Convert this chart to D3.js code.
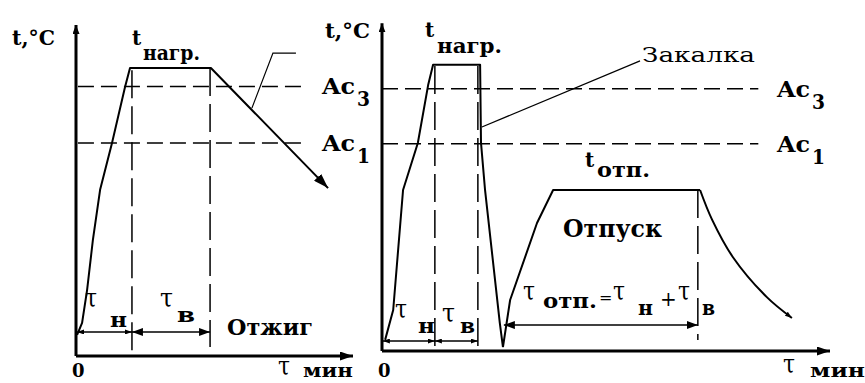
<!DOCTYPE html>
<html>
<head>
<meta charset="utf-8">
<title>Отжиг, закалка и отпуск</title>
<style>
  body { margin: 0; background: #fff; }
  svg { display: block; }
  .axis { stroke: #000; stroke-width: 3; fill: none; }
  .curve { stroke: #000; stroke-width: 2; fill: none; stroke-linejoin: round; }
  .crit { stroke: #000; stroke-width: 1.5; stroke-dasharray: 16 7; }
  .guide { stroke: #000; stroke-width: 1.5; stroke-dasharray: 28 8; }
  .dim { stroke: #000; stroke-width: 1.5; }
  .leader { stroke: #000; stroke-width: 1.2; fill: none; }
</style>
</head>
<body>
<div class="chart"></div>
<script src="https://d3js.org/d3.v7.min.js"></script>
<script>
// critical points, °C
const critNames = ["Ac1", "Ac3"];
const critTemps = [727, 920];

// annealing: heating, holding, slow cooling (time in arbitrary units)
const annealTime = [0.4, 2.2, 4.0, 6.1, 8.7, 13, 17.7, 19.5, 48.7, 91];
const annealTemp = [72, 113, 225, 396, 567, 727, 918, 983, 983, 573];
const annealMarks = [20.2, 48.4];          // end of heating, end of holding
const annealLeaderTime = [79.4, 71.1, 63.5];
const annealLeaderTemp = [1034, 1034, 846];

// quenching
const quenchTime = [0.7, 2.5, 4.7, 8.0, 10.3, 11.4, 21.9, 22.1, 23, 26.3, 27];
const quenchTemp = [39, 144, 565, 730, 933, 1004, 1004, 730, 565, 98, 14];
const quenchMarks = [11.8, 21.4];
const quenchLeaderTime = [57.6, 22.3];
const quenchLeaderTemp = [1018, 786];

// tempering: heating + holding, then cooling
const temperTime = [27, 28.6, 34.6, 38.2, 71];
const temperTemp = [14, 179, 449, 565, 565];
const coolTime = [71, 73.7, 78.3, 85.9, 91.5];
const coolTemp = [565, 460, 330, 189, 116];
const temperMark = 70.5;

const FONT = "'DejaVu Serif', 'Liberation Serif', serif";

const svg = d3.select(".chart").append("svg")
  .attr("width", 865)
  .attr("height", 383);

// arrow heads
const defs = svg.append("defs");
function marker(id, len, wid) {
  defs.append("marker")
    .attr("id", id)
    .attr("markerUnits", "userSpaceOnUse")
    .attr("markerWidth", len).attr("markerHeight", wid)
    .attr("refX", len).attr("refY", wid / 2)
    .attr("orient", "auto-start-reverse")
    .append("path")
    .attr("d", `M0,0L${len},${wid / 2}L0,${wid}Z`)
    .attr("fill", "#000");
}
marker("axisArrow", 13, 9);
marker("upArrow", 9, 7);
marker("bigArrow", 15, 10);
marker("dimArrow", 11, 8);
marker("smallArrow", 7, 5);

const xL = d3.scaleLinear().domain([0, 100]).range([76, 353]);
const yL = d3.scaleLinear().domain([0, 1000]).range([356, 63]);
const xR = d3.scaleLinear().domain([0, 100]).range([382, 830]);
const yR = d3.scaleLinear().domain([0, 1000]).range([351, 66]);

function axes(x, y, tTop) {
  svg.append("line").attr("class", "axis")
    .attr("x1", x(0)).attr("y1", y(0))
    .attr("x2", x(0)).attr("y2", y(tTop))
    .attr("marker-end", "url(#upArrow)");
  svg.append("line").attr("class", "axis")
    .attr("x1", x(0)).attr("y1", y(0))
    .attr("x2", x(100)).attr("y2", y(0))
    .attr("marker-end", "url(#axisArrow)");
}

function curve(x, y, times, temps, cls, arrow, smooth) {
  const line = d3.line().x(d => x(d[0])).y(d => y(d[1]));
  if (smooth) line.curve(d3.curveCatmullRom);
  const p = svg.append("path").attr("class", cls)
    .attr("d", line(d3.zip(times, temps)));
  if (arrow) p.attr("marker-end", `url(#${arrow})`);
}

function crit(x, y, t0, t1, lx, dy) {
  critTemps.forEach((T, i) => {
    svg.append("line").attr("class", "crit")
      .attr("x1", x(t0)).attr("x2", x(t1))
      .attr("y1", y(T)).attr("y2", y(T));
    txt(lx, y(T) + dy, "Ac", 22, true, 33);
    txt(lx + 35, y(T) + dy + 12, critNames[i].slice(2), 21, true, 13);
  });
}

function guide(x, y, t, T0, T1) {
  svg.append("line").attr("class", "guide")
    .attr("x1", x(t)).attr("x2", x(t))
    .attr("y1", y(T0)).attr("y2", y(T1));
}

function span(x, y, t0, t1, T, arrow) {
  svg.append("line").attr("class", "dim")
    .attr("x1", x(t0)).attr("x2", x(t1))
    .attr("y1", y(T)).attr("y2", y(T))
    .attr("marker-start", `url(#${arrow})`)
    .attr("marker-end", `url(#${arrow})`);
}

function txt(x, y, s, size, bold, w) {
  const t = svg.append("text")
    .attr("x", x).attr("y", y)
    .attr("font-family", FONT)
    .attr("font-size", size)
    .attr("fill", "#000")
    .text(s);
  if (bold) t.attr("font-weight", "bold");
  if (w) t.attr("textLength", w).attr("lengthAdjust", "spacingAndGlyphs");
  return t;
}

// ---------- left: annealing ----------
axes(xL, yL, 1130);
crit(xL, yL, 0.7, 82.7, 322, 8);
guide(xL, yL, annealMarks[0], 975, 0);
guide(xL, yL, annealMarks[1], 983, 31);
curve(xL, yL, annealTime, annealTemp, "curve", "bigArrow");
curve(xL, yL, annealLeaderTime, annealLeaderTemp, "leader");
span(xL, yL, 0.4, annealMarks[0], 82, "smallArrow");
span(xL, yL, annealMarks[0], annealMarks[1], 82, "dimArrow");

txt(12, 45, "t,°C", 21, true, 43);
txt(132, 45, "t", 20, true);
txt(143, 60, "нагр.", 21, true, 57);
txt(85, 307, "τ", 26, false, 12);
txt(110, 327, "н", 20, true, 17);
txt(160, 307, "τ", 26, false, 13);
txt(177, 322, "в", 20, true, 18);
txt(227, 335, "Отжиг", 23, true, 86);
txt(72, 377, "0", 18, true);
txt(278, 375, "τ", 26, false, 12);
txt(303, 377, "мин", 19, true, 50);

// ---------- right: quenching + tempering ----------
axes(xR, yR, 1150);
crit(xR, yR, 0, 84, 777, 8);
guide(xR, yR, quenchMarks[0], 1000, 0);
guide(xR, yR, quenchMarks[1], 1000, 0);
guide(xR, yR, temperMark, 565, 39);
curve(xR, yR, quenchTime, quenchTemp, "curve");
curve(xR, yR, temperTime, temperTemp, "curve");
curve(xR, yR, coolTime, coolTemp, "curve", "smallArrow", true);
curve(xR, yR, quenchLeaderTime, quenchLeaderTemp, "leader");
span(xR, yR, 0.2, quenchMarks[0], 35, "smallArrow");
span(xR, yR, quenchMarks[0], quenchMarks[1], 35, "smallArrow");
span(xR, yR, quenchTime[quenchTime.length - 1] + 0.2, temperMark, 91, "dimArrow");

txt(325, 38, "t,°C", 21, true, 45);
txt(425, 37, "t", 20, true);
txt(437, 53, "нагр.", 21, true, 65);
txt(642, 62, "Закалка", 20, false, 113);
txt(585, 167, "t", 20, true);
txt(597, 177, "отп.", 21, true, 53);
txt(563, 237, "Отпуск", 25, true, 99);
txt(523, 300, "τ", 26, false, 12);
txt(543, 308, "отп.", 20, true, 54);
txt(599, 303, "=", 16);
txt(613, 300, "τ", 26, false, 12);
txt(638, 315, "н", 20, true, 15);
txt(660, 306, "+", 20);
txt(678, 300, "τ", 26, false, 12);
txt(702, 315, "в", 20, true, 13);
txt(395, 318, "τ", 26, false, 12);
txt(418, 333, "н", 20, true, 17);
txt(442, 322, "τ", 26, false, 13);
txt(460, 333, "в", 20, true, 15);
txt(378, 377, "0", 18, true);
txt(783, 373, "τ", 26, false, 12);
txt(810, 377, "мин", 19, true, 55);
</script>
</body>
</html>
